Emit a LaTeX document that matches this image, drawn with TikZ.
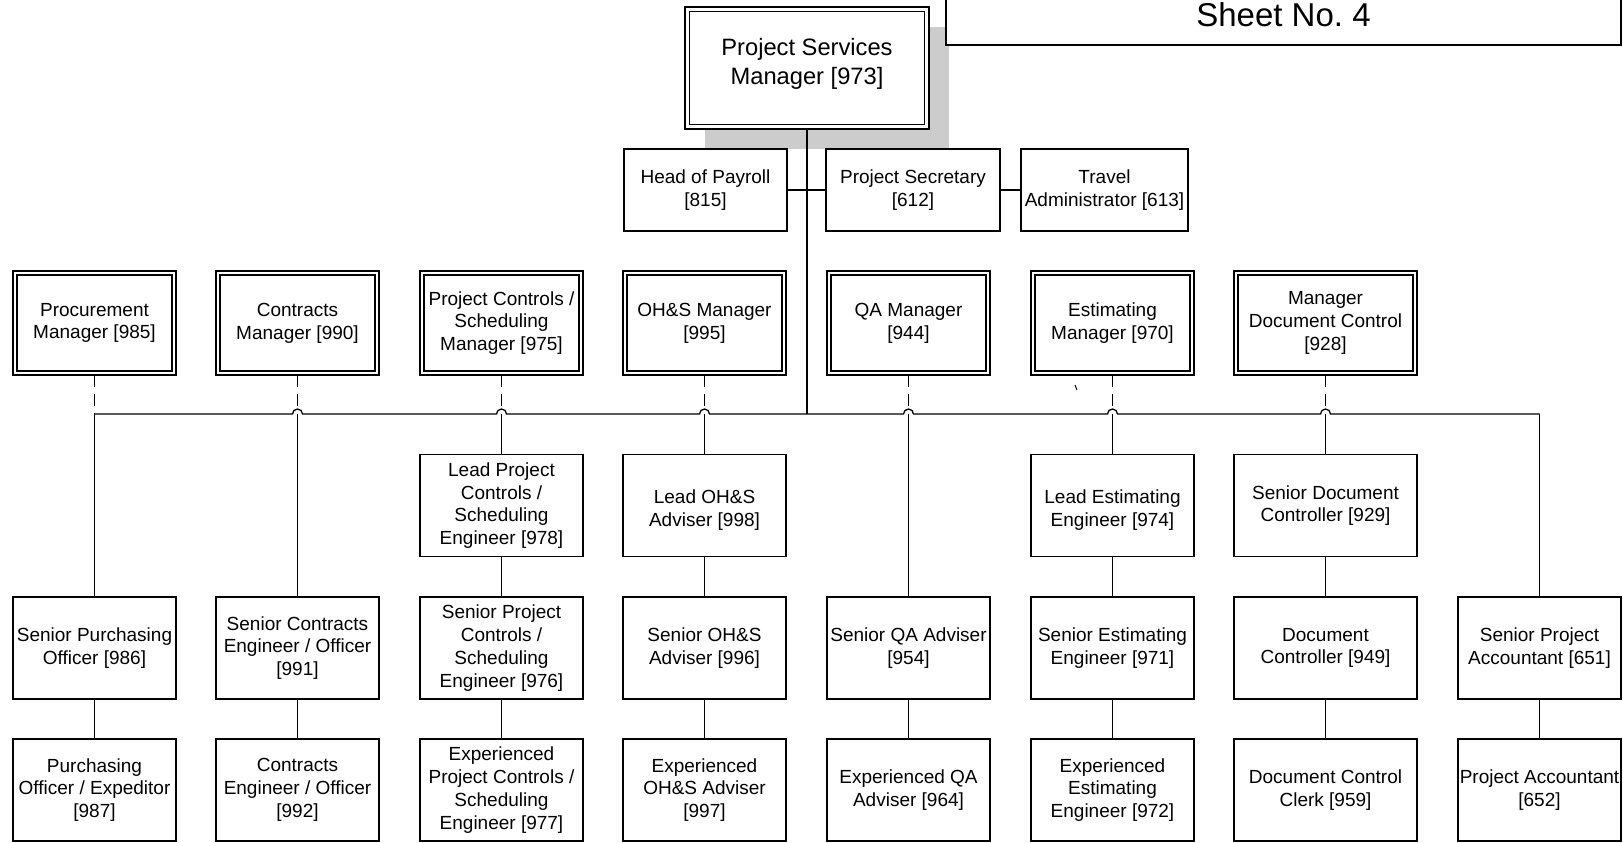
\documentclass[tikz,border=0pt]{standalone}
\usepackage{fontspec}
\setmainfont{Liberation Sans}
\usetikzlibrary{calc}
\definecolor{shadowgray}{RGB}{204,204,204}
\tikzset{
  rolebox/.style={draw, fill=white, line width=0.7pt, inner sep=0pt, align=center,
    minimum width=81.5pt, minimum height=51pt, font=\fontsize{9.5}{11.4}\selectfont},
  mgrbox/.style={rolebox, double, double distance=1.3pt, outer sep=1pt,
    minimum width=79.5pt, minimum height=50pt},
  headbox/.style={mgrbox, line width=0.8pt, double distance=1.45pt, outer sep=1.1pt,
    minimum width=119.75pt, minimum height=58.75pt, font=\fontsize{11.85}{14.5}\selectfont},
  dashline/.style={dash pattern=on 6pt off 3.5pt},
}
% text of a post, moved up or down inside its box
\newcommand{\shiftedtext}[2]{\raisebox{#1}[\height][\depth]{\begin{tabular}{@{}c@{}}#2\end{tabular}}}
\begin{document}
\begin{tikzpicture}[x=0.5pt, y=-0.5pt, line width=0.65pt]
  \useasboundingbox (0,0) rectangle (1623,842);
  \clip (0,0) rectangle (1623,842);
  % shadow of the top post
  \fill[shadowgray] (705,27) rectangle (949,149);
  \node[headbox] (psm) at (807,68) {\shiftedtext{2pt}{Project Services\\Manager [973]}};
  \node[
  draw,
  fill = white,
  line width = 0.8pt,
  inner sep = 0pt,
  minimum width = 337.5pt,
  minimum height = 30pt,
  font = \fontsize{16.5}{19}\selectfont
  ] (sheet) at (1283.5,15) {Sheet No.\ 4};
  % staff posts
  \node[rolebox, minimum height=41pt] (payroll) at (705.5,190) {Head of Payroll\\{[815]}};
  \node[rolebox, minimum width=87pt, minimum height=41pt] (secretary) at (913,190) {Project Secretary\\{[612]}};
  \node[rolebox, minimum width=83.5pt, minimum height=41pt] (travel) at (1104.5,190) {Travel\\Administrator [613]};
  % managers
  \node[mgrbox] (procure) at (94.5,323) {Procurement\\Manager [985]};
  \node[mgrbox] (contracts) at (297.5,323) {Contracts\\Manager [990]};
  \node[mgrbox] (pcmgr) at (501.5,323) {Project Controls /\\Scheduling\\Manager [975]};
  \node[mgrbox] (ohsmgr) at (704.5,323) {OH\&S Manager\\{[995]}};
  \node[mgrbox] (qamgr) at (908.5,323) {QA Manager\\{[944]}};
  \node[mgrbox] (estmgr) at (1112.5,323) {Estimating\\Manager [970]};
  \node[mgrbox, minimum width=89.5pt] (docmgr) at (1325.5,323) {Manager\\Document Control\\{[928]}};
  % leads
  \node[rolebox] (pclead) at (501.5,505.5) {Lead Project\\Controls /\\Scheduling\\Engineer [978]};
  \node[rolebox] (ohslead) at (704.5,505.5) {\shiftedtext{-2.4pt}{Lead OH\&S\\Adviser [998]}};
  \node[rolebox] (estlead) at (1112.5,505.5) {\shiftedtext{-2.4pt}{Lead Estimating\\Engineer [974]}};
  \node[rolebox, minimum width=91.5pt] (doclead) at (1325.5,505.5) {Senior Document\\Controller [929]};
  % seniors
  \node[rolebox] (purchsen) at (94.5,648) {Senior Purchasing\\Officer [986]};
  \node[rolebox] (contsen) at (297.5,648) {Senior Contracts\\Engineer / Officer\\{[991]}};
  \node[rolebox] (pcsen) at (501.5,648) {Senior Project\\Controls /\\Scheduling\\Engineer [976]};
  \node[rolebox] (ohssen) at (704.5,648) {Senior OH\&S\\Adviser [996]};
  \node[rolebox] (qasen) at (908.5,648) {Senior QA Adviser\\{[954]}};
  \node[rolebox] (estsen) at (1112.5,648) {Senior Estimating\\Engineer [971]};
  \node[rolebox, minimum width=91.5pt] (docctl) at (1325.5,648) {Document\\Controller [949]};
  \node[rolebox] (acctsen) at (1539.5,648) {Senior Project\\Accountant [651]};
  % bottom row
  \node[rolebox] (purch) at (94.5,790) {Purchasing\\Officer / Expeditor\\{[987]}};
  \node[rolebox] (cont) at (297.5,790) {Contracts\\Engineer / Officer\\{[992]}};
  \node[rolebox] (pcexp) at (501.5,790) {Experienced\\Project Controls /\\Scheduling\\Engineer [977]};
  \node[rolebox] (ohsexp) at (704.5,790) {Experienced\\OH\&S Adviser\\{[997]}};
  \node[rolebox] (qaexp) at (908.5,790) {Experienced QA\\Adviser [964]};
  \node[rolebox] (estexp) at (1112.5,790) {Experienced\\Estimating\\Engineer [972]};
  \node[rolebox, minimum width=91.5pt] (docclerk) at (1325.5,790) {Document Control\\Clerk [959]};
  \node[rolebox] (acct) at (1539.5,790) {Project Accountant\\{[652]}};
  % bus
  \coordinate (bt) at (807,414);
  \coordinate (b1) at (94.5,414);
  \coordinate (b2) at (297.5,414);
  \coordinate (b3) at (501.5,414);
  \coordinate (b4) at (704.5,414);
  \coordinate (b5) at (908.5,414);
  \coordinate (b6) at (1112.5,414);
  \coordinate (b7) at (1325.5,414);
  \coordinate (b8) at (1539.5,414);
  \draw (psm.south) -- (bt);
  \draw (payroll.east) -- (secretary.west);
  \draw (secretary.east) -- (travel.west);
  \draw (b1) -- ($(b2)+(-5,0)$) arc[start angle=180, end angle=0, radius=2.5pt]
    -- ($(b3)+(-5,0)$) arc[start angle=180, end angle=0, radius=2.5pt]
    -- ($(b4)+(-5,0)$) arc[start angle=180, end angle=0, radius=2.5pt]
    -- ($(b5)+(-5,0)$) arc[start angle=180, end angle=0, radius=2.5pt]
    -- ($(b6)+(-5,0)$) arc[start angle=180, end angle=0, radius=2.5pt]
    -- ($(b7)+(-5,0)$) arc[start angle=180, end angle=0, radius=2.5pt]
    -- (b8);
  \draw (b1) -- (purchsen.north);
  \draw (b2) -- (contsen.north);
  \draw (b3) -- (pclead.north);
  \draw (b4) -- (ohslead.north);
  \draw (b5) -- (qasen.north);
  \draw (b6) -- (estlead.north);
  \draw (b7) -- (doclead.north);
  \draw (b8) -- (acctsen.north);
  % dotted-line reporting
  \draw[dashline] (procure.south) -- (b1);
  \draw[dashline] (contracts.south) -- ($(b2)+(0,-5)$);
  \draw[dashline] (pcmgr.south) -- ($(b3)+(0,-5)$);
  \draw[dashline] (ohsmgr.south) -- ($(b4)+(0,-5)$);
  \draw[dashline] (qamgr.south) -- ($(b5)+(0,-5)$);
  \draw[dashline] (estmgr.south) -- ($(b6)+(0,-5)$);
  \draw[dashline] (docmgr.south) -- ($(b7)+(0,-5)$);
  % down the columns
  \draw (pclead) -- (pcsen);
  \draw (ohslead) -- (ohssen);
  \draw (estlead) -- (estsen);
  \draw (doclead) -- (docctl);
  \draw (purchsen) -- (purch);
  \draw (contsen) -- (cont);
  \draw (pcsen) -- (pcexp);
  \draw (ohssen) -- (ohsexp);
  \draw (qasen) -- (qaexp);
  \draw (estsen) -- (estexp);
  \draw (docctl) -- (docclerk);
  \draw (acctsen) -- (acct);
  \draw[line width=0.5pt] (1075,385) -- (1077,390);
\end{tikzpicture}
\end{document}
